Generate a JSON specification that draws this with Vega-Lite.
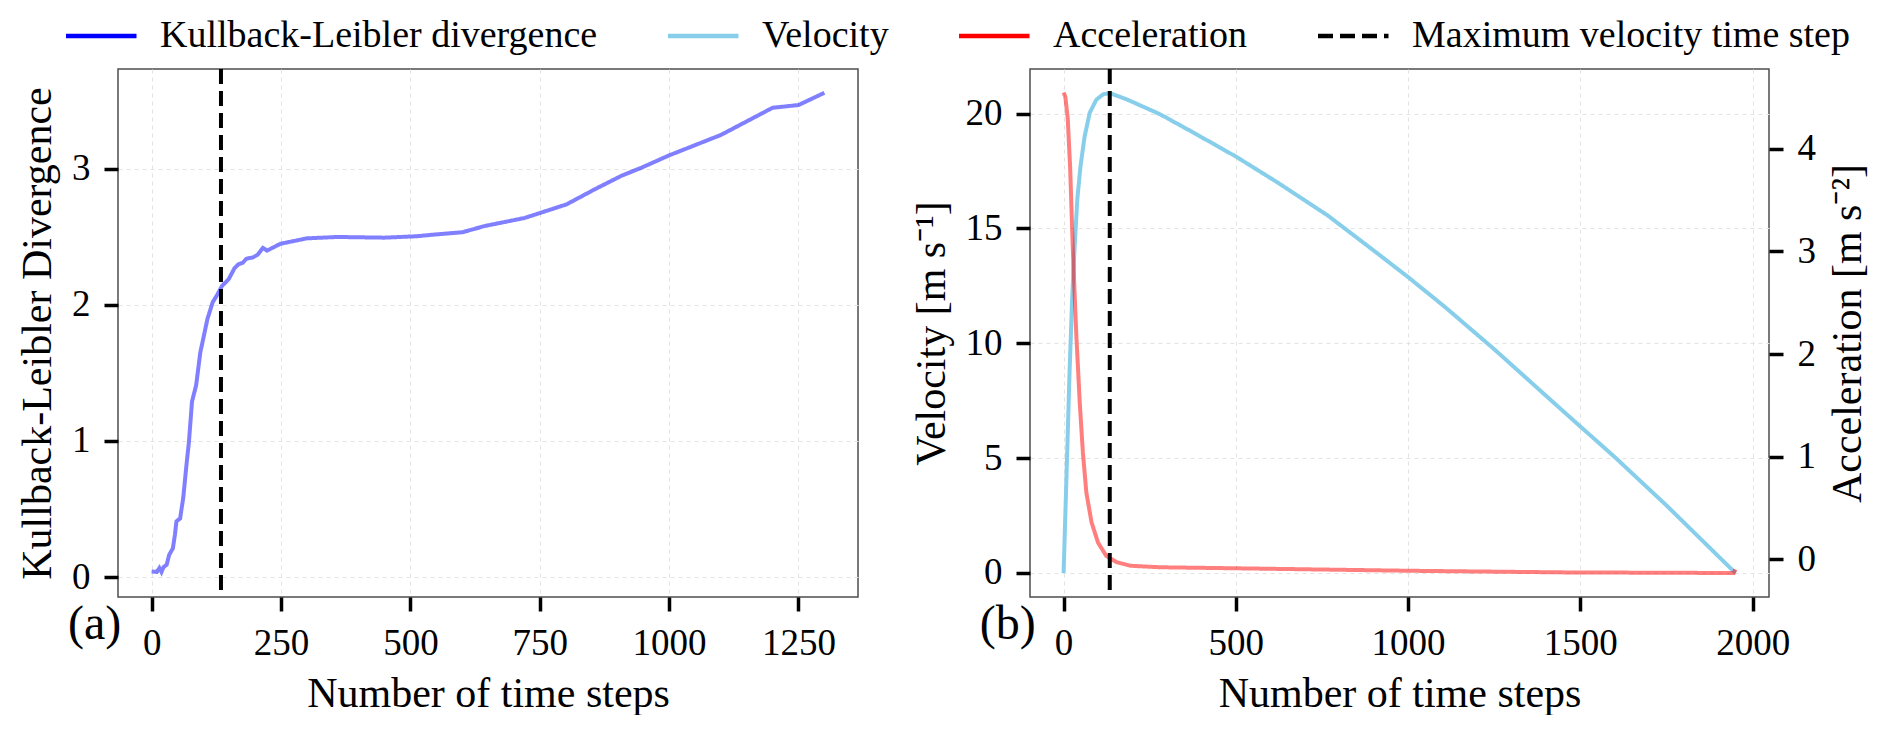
{
  "$schema": "https://vega.github.io/schema/vega-lite/v6.json",
  "background": "white",
  "padding": {"left": 15, "top": 17, "right": 0, "bottom": 0},
  "spacing": 50,
  "config": {
    "font": "Liberation Serif",
    "view": {"stroke": "#4d4d4d", "strokeWidth": 1.5},
    "axis": {
      "labelFont": "Liberation Serif",
      "labelFontSize": 37,
      "labelColor": "black",
      "labelPadding": 14,
      "titleFont": "Liberation Serif",
      "titleFontSize": 42,
      "titleFontWeight": "normal",
      "titleColor": "black",
      "titlePadding": 12,
      "domain": false,
      "ticks": true,
      "tickColor": "black",
      "tickOpacity": 1,
      "tickWidth": 3.5,
      "tickSize": 14,
      "gridColor": "#e3e3e3",
      "gridDash": [4, 4],
      "gridWidth": 1
    },
    "legend": {
      "direction": "horizontal",
      "padding": 0,
      "labelFont": "Liberation Serif",
      "labelFontSize": 38,
      "labelColor": "black",
      "labelLimit": 0,
      "symbolType": "M-1,0H4.875",
      "symbolSize": 576,
      "symbolStrokeWidth": 4.5,
      "symbolOpacity": 1,
      "labelOffset": 63,
      "columnPadding": 61
    }
  },
  "datasets": {
    "kl": [
      {"t": 0, "kl": 0.041}, {"t": 10, "kl": 0.037}, {"t": 15, "kl": 0.066},
      {"t": 19, "kl": 0.037}, {"t": 23, "kl": 0.073}, {"t": 29, "kl": 0.09},
      {"t": 34, "kl": 0.164}, {"t": 41, "kl": 0.21}, {"t": 45, "kl": 0.31},
      {"t": 48, "kl": 0.41}, {"t": 55, "kl": 0.43}, {"t": 61, "kl": 0.58},
      {"t": 68, "kl": 0.85}, {"t": 72, "kl": 0.99}, {"t": 78, "kl": 1.29},
      {"t": 86, "kl": 1.41}, {"t": 94, "kl": 1.65}, {"t": 108, "kl": 1.9},
      {"t": 118, "kl": 2.02}, {"t": 126, "kl": 2.07}, {"t": 136, "kl": 2.14},
      {"t": 149, "kl": 2.19}, {"t": 160, "kl": 2.27}, {"t": 168, "kl": 2.3},
      {"t": 176, "kl": 2.31}, {"t": 183, "kl": 2.34}, {"t": 196, "kl": 2.35},
      {"t": 205, "kl": 2.37}, {"t": 215, "kl": 2.42}, {"t": 223, "kl": 2.4},
      {"t": 249, "kl": 2.45}, {"t": 300, "kl": 2.49}, {"t": 359, "kl": 2.5},
      {"t": 449, "kl": 2.495}, {"t": 511, "kl": 2.505}, {"t": 553, "kl": 2.52},
      {"t": 601, "kl": 2.535}, {"t": 643, "kl": 2.58}, {"t": 721, "kl": 2.64},
      {"t": 802, "kl": 2.74}, {"t": 856, "kl": 2.85}, {"t": 908, "kl": 2.95},
      {"t": 947, "kl": 3.01}, {"t": 1000, "kl": 3.1}, {"t": 1100, "kl": 3.25},
      {"t": 1200, "kl": 3.45}, {"t": 1250, "kl": 3.47}, {"t": 1300, "kl": 3.56}
    ],
    "velocity": [
      {"t": 0, "v": 0}, {"t": 8, "v": 4.0}, {"t": 17, "v": 8.6}, {"t": 25, "v": 12.0},
      {"t": 32, "v": 14.2}, {"t": 40, "v": 16.3}, {"t": 49, "v": 17.7}, {"t": 61, "v": 19.0},
      {"t": 76, "v": 20.04}, {"t": 95, "v": 20.6}, {"t": 115, "v": 20.84}, {"t": 134, "v": 20.89},
      {"t": 183, "v": 20.62}, {"t": 280, "v": 19.97}, {"t": 377, "v": 19.17}, {"t": 500, "v": 18.13},
      {"t": 621, "v": 17.0}, {"t": 767, "v": 15.56}, {"t": 912, "v": 13.9}, {"t": 1000, "v": 12.88},
      {"t": 1107, "v": 11.58}, {"t": 1253, "v": 9.7}, {"t": 1457, "v": 6.95}, {"t": 1601, "v": 5.03},
      {"t": 1750, "v": 2.94}, {"t": 1950, "v": 0.0}
    ],
    "acceleration": [
      {"t": 0, "a": 4.55}, {"t": 5, "a": 4.51}, {"t": 12, "a": 4.3}, {"t": 19, "a": 3.82},
      {"t": 27, "a": 3.0}, {"t": 37, "a": 2.18}, {"t": 47, "a": 1.52}, {"t": 56, "a": 1.04},
      {"t": 66, "a": 0.65}, {"t": 81, "a": 0.36}, {"t": 100, "a": 0.16}, {"t": 124, "a": 0.03},
      {"t": 154, "a": -0.03}, {"t": 193, "a": -0.065}, {"t": 280, "a": -0.08}, {"t": 500, "a": -0.09},
      {"t": 1000, "a": -0.114}, {"t": 1457, "a": -0.13}, {"t": 1945, "a": -0.136}, {"t": 1950, "a": -0.1}
    ],
    "maxstep": [{"t": 134}]
  },
  "hconcat": [
    {
      "width": 740,
      "height": 528,
      "layer": [
        {
          "data": {"name": "kl"},
          "mark": {"type": "line", "strokeWidth": 4, "opacity": 0.5},
          "encoding": {
            "x": {"field": "t", "type": "quantitative",
              "scale": {"domain": [-65, 1365], "nice": false, "zero": false},
              "axis": {"values": [0, 250, 500, 750, 1000, 1250], "format": "d", "title": "Number of time steps", "grid": true}},
            "y": {"field": "kl", "type": "quantitative",
              "scale": {"domain": [-0.147, 3.735], "nice": false, "zero": false},
              "axis": {"values": [0, 1, 2, 3], "format": "d", "title": "Kullback-Leibler Divergence", "grid": true}},
            "color": {"datum": "Kullback-Leibler divergence", "type": "nominal",
              "scale": {"domain": ["Kullback-Leibler divergence", "Velocity", "Acceleration", "Maximum velocity time step"],
                        "range": ["#0000ff", "#87ceeb", "#ff0000", "#000000"]},
              "legend": {"title": null, "orient": "none", "legendX": -59, "legendY": -52}},
            "strokeDash": {"datum": "Kullback-Leibler divergence", "type": "nominal",
              "scale": {"domain": ["Kullback-Leibler divergence", "Velocity", "Acceleration", "Maximum velocity time step"],
                        "range": [[1, 0], [1, 0], [1, 0], [15, 7]]},
              "legend": {"title": null, "orient": "none", "legendX": -59, "legendY": -52}}
          }
        },
        {
          "data": {"name": "maxstep"},
          "mark": {"type": "rule", "strokeWidth": 4},
          "encoding": {
            "x": {"field": "t", "type": "quantitative", "scale": {"domain": [-65, 1365], "nice": false, "zero": false}},
            "color": {"datum": "Maximum velocity time step", "type": "nominal",
              "legend": {"title": null, "orient": "none", "legendX": -59, "legendY": -52}},
            "strokeDash": {"datum": "Maximum velocity time step", "type": "nominal",
              "legend": {"title": null, "orient": "none", "legendX": -59, "legendY": -52}}
          }
        },
        {
          "data": {"values": [{}]},
          "mark": {"type": "text", "fontSize": 48, "font": "Liberation Serif", "color": "black", "align": "center", "baseline": "middle"},
          "encoding": {
            "x": {"datum": -110, "type": "quantitative"},
            "y": {"datum": -0.35, "type": "quantitative"},
            "text": {"value": "(a)"}
          }
        }
      ]
    },
    {
      "width": 739,
      "height": 528,
      "layer": [
        {
          "layer": [
            {
              "data": {"name": "velocity"},
              "mark": {"type": "line", "strokeWidth": 4},
              "encoding": {
                "x": {"field": "t", "type": "quantitative",
                  "scale": {"domain": [-97.5, 2047.5], "nice": false, "zero": false},
                  "axis": {"values": [0, 500, 1000, 1500, 2000], "format": "d", "title": "Number of time steps", "grid": true}},
                "y": {"field": "v", "type": "quantitative",
                  "scale": {"domain": [-1.045, 21.94], "nice": false, "zero": false},
                  "axis": {"values": [0, 5, 10, 15, 20], "format": "d", "title": "Velocity [m s⁻¹]", "grid": true}},
                "color": {"datum": "Velocity", "type": "nominal",
                  "legend": {"title": null, "orient": "none", "legendX": -59, "legendY": -52}},
                "strokeDash": {"datum": "Velocity", "type": "nominal",
                  "legend": {"title": null, "orient": "none", "legendX": -59, "legendY": -52}}
              }
            },
            {
              "data": {"values": [{}]},
              "mark": {"type": "text", "fontSize": 48, "font": "Liberation Serif", "color": "black", "align": "center", "baseline": "middle"},
              "encoding": {
                "x": {"datum": -162, "type": "quantitative"},
                "y": {"datum": -2.25, "type": "quantitative"},
                "text": {"value": "(b)"}
              }
            }
          ]
        },
        {
          "data": {"name": "acceleration"},
          "mark": {"type": "line", "strokeWidth": 4, "opacity": 0.5},
          "encoding": {
            "x": {"field": "t", "type": "quantitative", "scale": {"domain": [-97.5, 2047.5], "nice": false, "zero": false}},
            "y": {"field": "a", "type": "quantitative",
              "scale": {"domain": [-0.37, 4.78], "nice": false, "zero": false},
              "axis": {"orient": "right", "values": [0, 1, 2, 3, 4], "format": "d", "title": "Acceleration [m s⁻²]", "grid": false,
                       "titleAngle": 270, "titleBaseline": "top"}},
            "color": {"datum": "Acceleration", "type": "nominal",
              "legend": {"title": null, "orient": "none", "legendX": -59, "legendY": -52}},
            "strokeDash": {"datum": "Acceleration", "type": "nominal",
              "legend": {"title": null, "orient": "none", "legendX": -59, "legendY": -52}}
          }
        },
        {
          "data": {"name": "maxstep"},
          "mark": {"type": "rule", "strokeWidth": 4},
          "encoding": {
            "x": {"field": "t", "type": "quantitative", "scale": {"domain": [-97.5, 2047.5], "nice": false, "zero": false}},
            "color": {"datum": "Maximum velocity time step", "type": "nominal",
              "legend": {"title": null, "orient": "none", "legendX": -59, "legendY": -52}},
            "strokeDash": {"datum": "Maximum velocity time step", "type": "nominal",
              "legend": {"title": null, "orient": "none", "legendX": -59, "legendY": -52}}
          }
        }
      ],
      "resolve": {"scale": {"y": "independent"}}
    }
  ]
}
